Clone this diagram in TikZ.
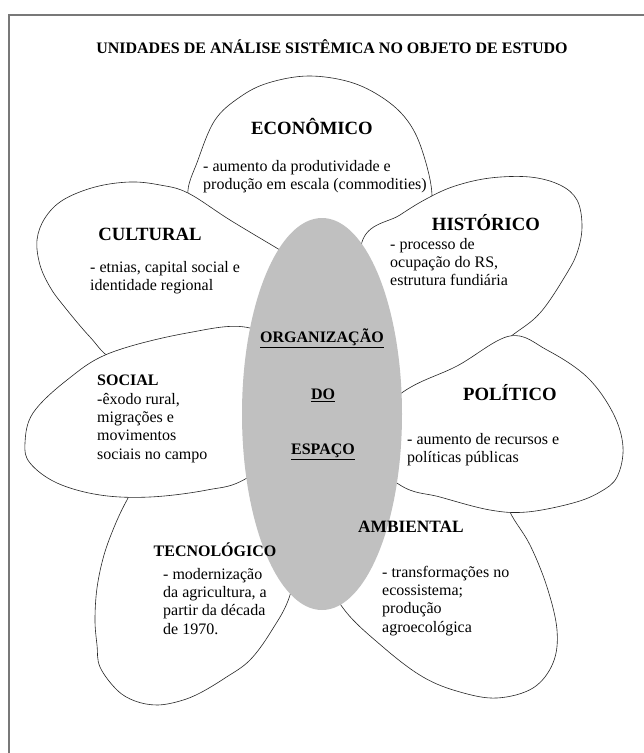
\documentclass[tikz,border=0pt]{standalone}
\usepackage{fontspec}
\setmainfont{Liberation Serif}
\definecolor{centergray}{RGB}{192,192,192}
\definecolor{framegray}{RGB}{120,120,120}
\tikzset{
  petal/.style={draw=black!85, line width=0.6pt, fill=white},
  titletxt/.style={font=\fontsize{16}{19}\selectfont\bfseries, inner sep=0pt},
  headtxt/.style={font=\fontsize{18.7}{22}\selectfont\bfseries, inner sep=0pt},
  smallhead/.style={font=\fontsize{16}{19}\selectfont\bfseries, inner sep=0pt},
  midhead/.style={font=\fontsize{17.3}{20}\selectfont\bfseries, inner sep=0pt},
  bodytxt/.style={font=\fontsize{16}{18.4}\selectfont, align=left, inner sep=0pt, anchor=base west},
  centertxt/.style={font=\fontsize{16}{19}\selectfont\bfseries, inner sep=0pt},
}
\begin{document}
\begin{tikzpicture}[x=1pt,y=-1pt]
\useasboundingbox (0,0) rectangle (644,753);
\fill[white] (0,0) rectangle (644,753);
% frame (cropped)
\draw[framegray, line width=1.2pt] (9,753) -- (9,15) -- (644,15);

% ECONOMICO petal
\path[petal] plot[smooth cycle, tension=0.6] coordinates {
 (188,195) (198,160) (215,120) (240,97) (268,83) (308,76) (350,82) (383,98) (407,120) (422,150) (432,195) (425,232) (380,280) (322,300) (265,275) (205,225)};
% CULTURAL petal
\path[petal] plot[smooth cycle, tension=0.6] coordinates {
 (310,268) (280,250) (230,220) (188,193) (160,185) (130,182) (95,187) (63,200) (45,218) (37,240) (40,265) (50,287) (63,305) (90,337) (115,360) (170,372) (260,350) (320,310)};
% HISTORICO petal
\path[petal] plot[smooth cycle, tension=0.6] coordinates {
 (362,242) (400,215) (428,198) (455,186) (490,178) (530,177) (560,185) (577,200) (582,225) (578,250) (567,273) (540,313) (510,337) (470,368) (430,392) (398,405) (365,330)};
% TECNOLOGICO petal
\path[petal] plot[smooth cycle, tension=0.6] coordinates {
 (127,500) (115,525) (104,555) (97,588) (95,620) (97,645) (100,667) (117,690) (135,701) (157,705) (180,701) (200,693) (225,678) (250,660) (272,630) (290,595) (300,540) (260,470) (190,470) (140,480)};
% AMBIENTAL petal
\path[petal] plot[smooth cycle, tension=0.6] coordinates {
 (510,512) (530,545) (547,587) (557,630) (553,663) (533,688) (497,698) (460,692) (423,677) (383,647) (343,608) (320,560) (330,500) (380,440) (460,440) (500,480)};
% SOCIAL petal
\path[petal] plot[smooth cycle, tension=0.6] coordinates {
 (250,328) (187,333) (110,353) (67,380) (33,413) (25,443) (30,463) (57,483) (100,495) (150,497) (207,490) (247,478) (310,430) (300,360)};
% POLITICO petal
\path[petal] plot[smooth cycle, tension=0.6] coordinates {
 (403,392) (457,366) (510,336) (547,350) (587,377) (613,413) (623,447) (617,477) (600,492) (573,503) (527,512) (490,510) (440,497) (400,485) (350,440)};

% centre ellipse
\fill[centergray] (322,414) ellipse [x radius=80pt, y radius=196pt];

% title
\node[titletxt] (title) at (332,47) {UNIDADES DE ANÁLISE SISTÊMICA NO OBJETO DE ESTUDO};

% headings
\node[headtxt] (hecon) at (312,126) {ECONÔMICO};
\node[headtxt] (hcult) at (150,234) {CULTURAL};
\node[headtxt] (hhist) at (486,223) {HISTÓRICO};
\node[headtxt] (hpol) at (510,393) {POLÍTICO};
\node[smallhead, anchor=west] (hsoc) at (97,380) {SOCIAL};
\node[smallhead] (htec) at (215,550) {TECNOLÓGICO};
\node[midhead, anchor=west] (hamb) at (358,527) {AMBIENTAL};

% body texts (anchor = baseline of the last line)
\node[bodytxt] (becon) at (203,189.4) {- aumento da produtividade e\\produção em escala (commodities)};
\node[bodytxt] (bcult) at (90,290.4) {- etnias, capital social e\\identidade regional};
\node[bodytxt] (bhist) at (390,285.8) {- processo de\\ocupação do RS,\\estrutura fundiária};
\node[bodytxt] (bpol) at (407,462.4) {- aumento de recursos e\\políticas públicas};
\node[bodytxt] (bsoc) at (97,459.2) {-êxodo rural,\\migrações e\\movimentos\\sociais no campo};
\node[bodytxt] (btec) at (163,634.2) {- modernização\\da agricultura, a\\partir da década\\de 1970.};
\node[bodytxt] (bamb) at (382,632.2) {- transformações no\\ecossistema;\\produção\\agroecológica};

% centre texts
\node[centertxt] (corg) at (322,338) {\underline{ORGANIZAÇÃO}};
\node[centertxt] (cdo) at (323,395) {\underline{DO}};
\node[centertxt] (cesp) at (323,452) {\underline{ESPAÇO}};
\end{tikzpicture}
\end{document}
